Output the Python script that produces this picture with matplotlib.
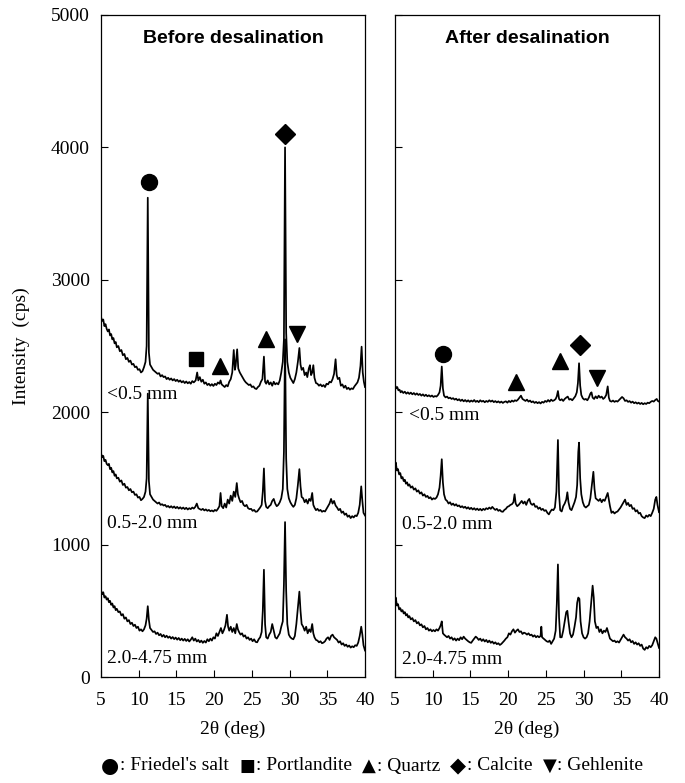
import matplotlib
matplotlib.use("Agg")
import matplotlib.pyplot as plt

# XRD patterns (2theta in deg, intensity in cps)
before_05 = [
    (5.0, 2720), (5.15, 2690), (5.3, 2700), (5.45, 2650), (5.6, 2665), (5.75, 2630), (5.9, 2610), (6.05, 2625),
    (6.2, 2580), (6.35, 2590), (6.5, 2550), (6.65, 2560), (6.8, 2520), (6.95, 2530), (7.1, 2490), (7.3, 2500),
    (7.5, 2460), (7.7, 2470), (7.9, 2430), (8.1, 2440), (8.3, 2400), (8.5, 2410), (8.7, 2380), (8.9, 2390),
    (9.1, 2360), (9.3, 2365), (9.5, 2340), (9.7, 2345), (9.9, 2320), (10.1, 2325), (10.3, 2300), (10.5, 2310),
    (10.7, 2340), (10.9, 2380), (11.05, 2500), (11.2, 3620), (11.35, 2450), (11.5, 2360), (11.7, 2340),
    (11.9, 2320), (12.1, 2310), (12.3, 2300), (12.5, 2290), (12.7, 2295), (12.9, 2270), (13.1, 2280),
    (13.3, 2265), (13.5, 2270), (13.7, 2250), (13.9, 2260), (14.1, 2245), (14.3, 2255), (14.5, 2240),
    (14.7, 2250), (14.9, 2235), (15.1, 2245), (15.3, 2230), (15.5, 2240), (15.7, 2225), (15.9, 2235),
    (16.1, 2220), (16.3, 2232), (16.5, 2218), (16.7, 2228), (16.9, 2215), (17.1, 2235), (17.3, 2225),
    (17.55, 2240), (17.75, 2300), (17.9, 2240), (18.1, 2265), (18.3, 2230), (18.5, 2245), (18.7, 2215),
    (18.9, 2225), (19.1, 2205), (19.3, 2215), (19.5, 2200), (19.7, 2212), (19.9, 2198), (20.1, 2215),
    (20.3, 2205), (20.5, 2225), (20.7, 2215), (20.85, 2240), (21.0, 2210), (21.2, 2200), (21.4, 2190),
    (21.6, 2205), (21.8, 2195), (22.0, 2230), (22.2, 2250), (22.4, 2300), (22.6, 2470), (22.75, 2320),
    (22.85, 2350), (23.05, 2475), (23.2, 2330), (23.4, 2300), (23.6, 2280), (23.8, 2260), (24.0, 2240),
    (24.2, 2225), (24.4, 2215), (24.6, 2205), (24.8, 2210), (25.0, 2190), (25.2, 2195), (25.4, 2180),
    (25.6, 2175), (25.8, 2190), (26.0, 2200), (26.2, 2230), (26.4, 2250), (26.6, 2420), (26.75, 2230),
    (26.9, 2215), (27.1, 2240), (27.3, 2210), (27.5, 2225), (27.7, 2200), (27.9, 2230), (28.1, 2210),
    (28.3, 2220), (28.5, 2210), (28.7, 2240), (28.9, 2300), (29.1, 2380), (29.25, 2550), (29.4, 4000),
    (29.55, 2600), (29.7, 2380), (29.9, 2300), (30.1, 2260), (30.3, 2240), (30.5, 2220), (30.7, 2250),
    (30.9, 2300), (31.1, 2380), (31.3, 2485), (31.45, 2360), (31.6, 2320), (31.8, 2335), (32.0, 2280),
    (32.2, 2300), (32.35, 2265), (32.55, 2330), (32.7, 2355), (32.85, 2280), (33.0, 2300), (33.15, 2355),
    (33.3, 2260), (33.5, 2220), (33.7, 2215), (33.9, 2200), (34.1, 2210), (34.3, 2195), (34.5, 2205),
    (34.7, 2190), (34.9, 2215), (35.1, 2210), (35.3, 2230), (35.5, 2225), (35.7, 2250), (35.9, 2290),
    (36.1, 2400), (36.25, 2280), (36.4, 2250), (36.6, 2260), (36.8, 2200), (37.0, 2210), (37.2, 2185),
    (37.4, 2200), (37.6, 2175), (37.8, 2185), (38.0, 2170), (38.2, 2180), (38.4, 2175), (38.6, 2195),
    (38.8, 2210), (39.0, 2225), (39.2, 2260), (39.4, 2350), (39.55, 2495), (39.7, 2300), (39.85, 2230),
    (40.0, 2190),
]

before_05_20 = [
    (5.0, 1690), (5.15, 1660), (5.3, 1670), (5.45, 1630), (5.6, 1640), (5.75, 1610), (5.9, 1600), (6.05, 1610),
    (6.2, 1570), (6.35, 1580), (6.5, 1545), (6.65, 1555), (6.8, 1520), (6.95, 1530), (7.1, 1500), (7.3, 1505),
    (7.5, 1475), (7.7, 1485), (7.9, 1450), (8.1, 1460), (8.3, 1430), (8.5, 1435), (8.7, 1410), (8.9, 1420),
    (9.1, 1395), (9.3, 1400), (9.5, 1375), (9.7, 1380), (9.9, 1355), (10.1, 1360), (10.3, 1335), (10.5, 1345),
    (10.7, 1360), (10.9, 1400), (11.05, 1500), (11.2, 2140), (11.35, 1480), (11.5, 1380), (11.7, 1360),
    (11.9, 1340), (12.1, 1330), (12.3, 1320), (12.5, 1310), (12.7, 1318), (12.9, 1300), (13.1, 1305),
    (13.3, 1295), (13.5, 1300), (13.7, 1285), (13.9, 1292), (14.1, 1280), (14.3, 1290), (14.5, 1278),
    (14.7, 1288), (14.9, 1275), (15.1, 1285), (15.3, 1272), (15.5, 1282), (15.7, 1270), (15.9, 1280),
    (16.1, 1268), (16.3, 1278), (16.5, 1265), (16.7, 1275), (16.9, 1268), (17.1, 1280), (17.3, 1272),
    (17.5, 1285), (17.7, 1310), (17.9, 1275), (18.1, 1268), (18.3, 1262), (18.5, 1270), (18.7, 1258),
    (18.9, 1266), (19.1, 1255), (19.3, 1262), (19.5, 1252), (19.7, 1258), (19.9, 1250), (20.1, 1262),
    (20.3, 1255), (20.5, 1270), (20.7, 1290), (20.85, 1390), (21.0, 1290), (21.2, 1275), (21.4, 1310),
    (21.6, 1280), (21.8, 1340), (22.0, 1310), (22.2, 1370), (22.4, 1330), (22.6, 1400), (22.8, 1360),
    (23.0, 1465), (23.15, 1380), (23.3, 1350), (23.5, 1320), (23.7, 1330), (23.9, 1300), (24.1, 1290),
    (24.3, 1300), (24.5, 1275), (24.7, 1268), (24.9, 1270), (25.1, 1255), (25.3, 1262), (25.5, 1248),
    (25.7, 1250), (25.9, 1265), (26.1, 1280), (26.3, 1300), (26.45, 1400), (26.6, 1575), (26.75, 1330),
    (26.9, 1285), (27.1, 1275), (27.3, 1290), (27.5, 1300), (27.7, 1330), (27.9, 1345), (28.1, 1310),
    (28.3, 1290), (28.5, 1300), (28.7, 1320), (28.9, 1350), (29.1, 1420), (29.25, 1700), (29.4, 2550),
    (29.55, 1650), (29.7, 1420), (29.9, 1350), (30.1, 1320), (30.3, 1300), (30.5, 1285), (30.7, 1300),
    (30.9, 1350), (31.1, 1450), (31.3, 1570), (31.45, 1440), (31.6, 1360), (31.8, 1350), (32.0, 1320),
    (32.2, 1340), (32.4, 1310), (32.6, 1345), (32.8, 1330), (33.0, 1390), (33.15, 1300), (33.3, 1280),
    (33.5, 1260), (33.7, 1270), (33.9, 1255), (34.1, 1262), (34.3, 1248), (34.5, 1255), (34.7, 1250),
    (34.9, 1270), (35.1, 1290), (35.3, 1310), (35.5, 1345), (35.7, 1310), (35.9, 1330), (36.1, 1295),
    (36.3, 1280), (36.5, 1260), (36.7, 1270), (36.9, 1240), (37.1, 1250), (37.3, 1225), (37.5, 1235),
    (37.7, 1210), (37.9, 1220), (38.1, 1200), (38.3, 1215), (38.5, 1205), (38.7, 1220), (38.9, 1215),
    (39.1, 1240), (39.3, 1300), (39.5, 1440), (39.65, 1330), (39.8, 1240), (40.0, 1220),
]

before_20_475 = [
    (5.0, 655), (5.15, 625), (5.3, 640), (5.45, 600), (5.6, 610), (5.75, 585), (5.9, 595), (6.05, 565),
    (6.2, 575), (6.35, 545), (6.5, 555), (6.65, 525), (6.8, 535), (6.95, 505), (7.1, 515), (7.3, 490),
    (7.5, 495), (7.7, 465), (7.9, 475), (8.1, 440), (8.3, 450), (8.5, 420), (8.7, 430), (8.9, 400),
    (9.1, 410), (9.3, 385), (9.5, 395), (9.7, 370), (9.9, 380), (10.1, 350), (10.3, 360), (10.5, 345),
    (10.7, 360), (10.9, 390), (11.05, 440), (11.2, 535), (11.35, 430), (11.5, 370), (11.7, 355), (11.9, 340),
    (12.1, 345), (12.3, 325), (12.5, 335), (12.7, 315), (12.9, 325), (13.1, 305), (13.3, 318), (13.5, 300),
    (13.7, 312), (13.9, 296), (14.1, 306), (14.3, 290), (14.5, 302), (14.7, 286), (14.9, 298), (15.1, 282),
    (15.3, 295), (15.5, 278), (15.7, 290), (15.9, 275), (16.1, 288), (16.3, 272), (16.5, 285), (16.7, 268),
    (16.9, 282), (17.1, 300), (17.3, 275), (17.5, 290), (17.7, 268), (17.9, 280), (18.1, 262), (18.3, 275),
    (18.5, 258), (18.7, 272), (18.9, 260), (19.1, 285), (19.3, 270), (19.5, 290), (19.7, 275), (19.9, 300),
    (20.1, 290), (20.3, 330), (20.5, 310), (20.7, 340), (20.9, 370), (21.1, 330), (21.3, 355), (21.5, 390),
    (21.7, 470), (21.85, 380), (22.0, 350), (22.2, 380), (22.4, 340), (22.6, 370), (22.8, 330), (23.0, 400),
    (23.15, 360), (23.3, 340), (23.5, 320), (23.7, 330), (23.9, 305), (24.1, 315), (24.3, 290), (24.5, 300),
    (24.7, 280), (24.9, 290), (25.1, 270), (25.3, 285), (25.5, 265), (25.7, 262), (25.9, 285), (26.1, 300),
    (26.3, 340), (26.45, 500), (26.6, 810), (26.75, 400), (26.9, 300), (27.1, 290), (27.3, 320), (27.5, 340),
    (27.7, 400), (27.9, 350), (28.1, 300), (28.3, 290), (28.5, 310), (28.7, 330), (28.9, 380), (29.1, 420),
    (29.25, 700), (29.4, 1170), (29.55, 650), (29.7, 400), (29.9, 320), (30.1, 300), (30.3, 290), (30.5, 285),
    (30.7, 310), (30.9, 400), (31.1, 520), (31.3, 645), (31.45, 500), (31.6, 400), (31.8, 380), (32.0, 350),
    (32.2, 380), (32.4, 330), (32.6, 360), (32.8, 340), (33.0, 400), (33.15, 330), (33.3, 300), (33.5, 280),
    (33.7, 275), (33.9, 262), (34.1, 270), (34.3, 255), (34.5, 260), (34.7, 270), (34.9, 290), (35.1, 300),
    (35.3, 280), (35.5, 310), (35.7, 320), (35.9, 300), (36.1, 290), (36.3, 280), (36.5, 260), (36.7, 270),
    (36.9, 245), (37.1, 255), (37.3, 235), (37.5, 245), (37.7, 228), (37.9, 238), (38.1, 222), (38.3, 232),
    (38.5, 225), (38.7, 240), (38.9, 235), (39.1, 260), (39.3, 310), (39.5, 380), (39.65, 320), (39.8, 240),
    (40.0, 200),
]

after_05 = [
    (5.0, 2205), (5.15, 2180), (5.3, 2190), (5.45, 2165), (5.6, 2170), (5.75, 2150), (5.9, 2160), (6.1, 2145),
    (6.3, 2155), (6.5, 2140), (6.7, 2150), (6.9, 2138), (7.1, 2148), (7.3, 2135), (7.5, 2145), (7.7, 2132),
    (7.9, 2142), (8.1, 2130), (8.3, 2138), (8.5, 2125), (8.7, 2135), (8.9, 2122), (9.1, 2132), (9.3, 2120),
    (9.5, 2128), (9.7, 2118), (9.9, 2126), (10.1, 2115), (10.3, 2122), (10.5, 2118), (10.7, 2130), (10.9, 2150),
    (11.05, 2200), (11.2, 2345), (11.35, 2180), (11.5, 2125), (11.7, 2112), (11.9, 2118), (12.1, 2105),
    (12.3, 2110), (12.5, 2100), (12.7, 2106), (12.9, 2095), (13.1, 2102), (13.3, 2090), (13.5, 2098),
    (13.7, 2085), (13.9, 2095), (14.1, 2082), (14.3, 2092), (14.5, 2080), (14.7, 2090), (14.9, 2078),
    (15.1, 2088), (15.3, 2080), (15.5, 2092), (15.7, 2078), (15.9, 2086), (16.1, 2076), (16.3, 2090),
    (16.5, 2080), (16.7, 2086), (16.9, 2075), (17.1, 2085), (17.3, 2078), (17.5, 2090), (17.7, 2080),
    (17.9, 2088), (18.1, 2076), (18.3, 2084), (18.5, 2074), (18.7, 2082), (18.9, 2072), (19.1, 2080),
    (19.3, 2070), (19.5, 2078), (19.7, 2082), (19.9, 2072), (20.1, 2085), (20.3, 2076), (20.5, 2088),
    (20.7, 2080), (20.9, 2090), (21.1, 2085), (21.3, 2095), (21.5, 2110), (21.7, 2125), (21.9, 2100),
    (22.1, 2092), (22.3, 2085), (22.5, 2095), (22.7, 2080), (22.9, 2088), (23.1, 2075), (23.3, 2082),
    (23.5, 2070), (23.7, 2078), (23.9, 2068), (24.1, 2076), (24.3, 2066), (24.5, 2078), (24.7, 2072),
    (24.9, 2085), (25.1, 2078), (25.3, 2092), (25.5, 2080), (25.7, 2095), (25.9, 2085), (26.1, 2090),
    (26.3, 2100), (26.45, 2120), (26.6, 2160), (26.75, 2100), (26.9, 2090), (27.1, 2098), (27.3, 2085),
    (27.5, 2100), (27.7, 2110), (27.9, 2118), (28.1, 2095), (28.3, 2100), (28.5, 2090), (28.7, 2105),
    (28.9, 2120), (29.1, 2150), (29.25, 2220), (29.4, 2370), (29.55, 2200), (29.7, 2130), (29.9, 2105),
    (30.1, 2095), (30.3, 2100), (30.5, 2090), (30.7, 2110), (30.9, 2140), (31.05, 2150), (31.2, 2110),
    (31.4, 2100), (31.6, 2120), (31.8, 2105), (32.0, 2125), (32.2, 2110), (32.4, 2118), (32.6, 2100),
    (32.8, 2110), (33.0, 2130), (33.2, 2195), (33.35, 2110), (33.5, 2085), (33.7, 2080), (33.9, 2088),
    (34.1, 2078), (34.3, 2085), (34.5, 2080), (34.7, 2092), (34.9, 2105), (35.1, 2115), (35.3, 2105),
    (35.5, 2085), (35.7, 2090), (35.9, 2078), (36.1, 2084), (36.3, 2072), (36.5, 2080), (36.7, 2068),
    (36.9, 2075), (37.1, 2065), (37.3, 2072), (37.5, 2062), (37.7, 2070), (37.9, 2060), (38.1, 2068),
    (38.3, 2062), (38.5, 2072), (38.7, 2068), (38.9, 2078), (39.1, 2085), (39.3, 2080), (39.5, 2092),
    (39.7, 2100), (39.85, 2085), (40.0, 2080),
]

after_05_20 = [
    (5.0, 1600), (5.1, 1620), (5.25, 1560), (5.4, 1570), (5.55, 1530), (5.7, 1540), (5.85, 1500), (6.0, 1510),
    (6.15, 1480), (6.3, 1490), (6.45, 1460), (6.6, 1470), (6.75, 1445), (6.9, 1455), (7.1, 1430), (7.3, 1440),
    (7.5, 1415), (7.7, 1425), (7.9, 1400), (8.1, 1410), (8.3, 1385), (8.5, 1395), (8.7, 1370), (8.9, 1380),
    (9.1, 1360), (9.3, 1368), (9.5, 1350), (9.7, 1358), (9.9, 1340), (10.1, 1350), (10.3, 1345), (10.5, 1355),
    (10.7, 1380), (10.9, 1430), (11.05, 1520), (11.2, 1645), (11.35, 1470), (11.5, 1380), (11.7, 1340),
    (11.9, 1330), (12.1, 1310), (12.3, 1320), (12.5, 1300), (12.7, 1310), (12.9, 1295), (13.1, 1305),
    (13.3, 1290), (13.5, 1296), (13.7, 1282), (13.9, 1290), (14.1, 1278), (14.3, 1286), (14.5, 1272),
    (14.7, 1282), (14.9, 1268), (15.1, 1278), (15.3, 1265), (15.5, 1275), (15.7, 1262), (15.9, 1272),
    (16.1, 1260), (16.3, 1270), (16.5, 1258), (16.7, 1270), (16.9, 1262), (17.1, 1275), (17.3, 1268),
    (17.5, 1280), (17.7, 1270), (17.9, 1285), (18.1, 1272), (18.3, 1262), (18.5, 1270), (18.7, 1255),
    (18.9, 1262), (19.1, 1250), (19.3, 1248), (19.5, 1262), (19.7, 1270), (19.9, 1285), (20.1, 1290),
    (20.3, 1300), (20.5, 1305), (20.7, 1320), (20.85, 1380), (21.0, 1310), (21.2, 1290), (21.4, 1300),
    (21.6, 1315), (21.8, 1330), (22.0, 1310), (22.2, 1325), (22.4, 1300), (22.6, 1330), (22.8, 1345),
    (23.0, 1310), (23.2, 1300), (23.4, 1310), (23.6, 1285), (23.8, 1290), (24.0, 1270), (24.2, 1280),
    (24.4, 1262), (24.6, 1270), (24.8, 1255), (25.0, 1260), (25.2, 1240), (25.4, 1228), (25.6, 1250),
    (25.8, 1265), (26.0, 1260), (26.2, 1280), (26.4, 1400), (26.6, 1790), (26.75, 1380), (26.9, 1260),
    (27.1, 1250), (27.3, 1290), (27.5, 1310), (27.7, 1340), (27.85, 1395), (28.0, 1320), (28.2, 1270),
    (28.4, 1260), (28.6, 1290), (28.8, 1320), (29.0, 1360), (29.15, 1450), (29.3, 1700), (29.4, 1770),
    (29.55, 1500), (29.7, 1380), (29.9, 1320), (30.1, 1290), (30.3, 1280), (30.5, 1290), (30.7, 1300),
    (30.9, 1350), (31.1, 1450), (31.3, 1550), (31.45, 1420), (31.6, 1350), (31.8, 1340), (32.0, 1330),
    (32.2, 1345), (32.4, 1320), (32.6, 1340), (32.8, 1330), (33.0, 1360), (33.2, 1390), (33.35, 1340),
    (33.5, 1290), (33.7, 1240), (33.9, 1250), (34.1, 1235), (34.3, 1245), (34.5, 1250), (34.7, 1265),
    (34.9, 1280), (35.1, 1300), (35.3, 1320), (35.5, 1340), (35.7, 1300), (35.9, 1315), (36.1, 1290),
    (36.3, 1300), (36.5, 1270), (36.7, 1275), (36.9, 1250), (37.1, 1260), (37.3, 1235), (37.5, 1240),
    (37.7, 1215), (37.9, 1205), (38.1, 1200), (38.3, 1220), (38.5, 1210), (38.7, 1225), (38.9, 1215),
    (39.1, 1240), (39.3, 1270), (39.5, 1340), (39.65, 1360), (39.8, 1300), (40.0, 1245),
]

after_20_475 = [
    (5.0, 580), (5.1, 600), (5.25, 540), (5.4, 550), (5.55, 510), (5.7, 520), (5.85, 495), (6.0, 505),
    (6.15, 480), (6.3, 490), (6.45, 465), (6.6, 475), (6.75, 450), (6.9, 460), (7.1, 435), (7.3, 445),
    (7.5, 420), (7.7, 430), (7.9, 405), (8.1, 415), (8.3, 390), (8.5, 398), (8.7, 375), (8.9, 385),
    (9.1, 360), (9.3, 370), (9.5, 350), (9.7, 360), (9.9, 345), (10.1, 355), (10.3, 345), (10.5, 360),
    (10.7, 350), (10.9, 370), (11.05, 390), (11.2, 420), (11.35, 330), (11.5, 320), (11.7, 310), (11.9, 300),
    (12.1, 310), (12.3, 290), (12.5, 300), (12.7, 280), (12.9, 292), (13.1, 275), (13.3, 290), (13.5, 278),
    (13.7, 300), (13.9, 285), (14.1, 305), (14.3, 290), (14.5, 280), (14.7, 270), (14.9, 262), (15.1, 258),
    (15.3, 275), (15.5, 290), (15.7, 305), (15.9, 295), (16.1, 280), (16.3, 290), (16.5, 272), (16.7, 285),
    (16.9, 268), (17.1, 280), (17.3, 262), (17.5, 275), (17.7, 258), (17.9, 268), (18.1, 252), (18.3, 262),
    (18.5, 248), (18.7, 255), (18.9, 242), (19.1, 250), (19.3, 262), (19.5, 275), (19.7, 290), (19.9, 300),
    (20.1, 330), (20.3, 320), (20.5, 345), (20.7, 360), (20.9, 335), (21.1, 350), (21.3, 360), (21.5, 340),
    (21.7, 345), (21.9, 325), (22.1, 335), (22.3, 330), (22.5, 320), (22.7, 330), (22.9, 315), (23.1, 320),
    (23.3, 305), (23.5, 315), (23.7, 300), (23.9, 310), (24.1, 300), (24.3, 310), (24.4, 380), (24.5, 300),
    (24.7, 290), (24.9, 280), (25.1, 270), (25.3, 265), (25.5, 275), (25.7, 250), (25.9, 270), (26.1, 290),
    (26.3, 350), (26.45, 550), (26.6, 850), (26.75, 450), (26.9, 300), (27.1, 300), (27.3, 350), (27.5, 420),
    (27.7, 490), (27.85, 500), (28.0, 420), (28.2, 330), (28.4, 300), (28.6, 320), (28.8, 380), (29.0, 450),
    (29.15, 560), (29.3, 600), (29.45, 590), (29.6, 420), (29.8, 330), (30.0, 300), (30.2, 290), (30.4, 300),
    (30.6, 330), (30.8, 420), (31.0, 560), (31.2, 690), (31.35, 600), (31.5, 420), (31.7, 370), (31.9, 380),
    (32.1, 340), (32.3, 360), (32.5, 330), (32.7, 350), (32.9, 340), (33.1, 370), (33.3, 330), (33.5, 290),
    (33.7, 280), (33.9, 270), (34.1, 275), (34.3, 262), (34.5, 270), (34.7, 260), (34.9, 280), (35.1, 300),
    (35.3, 320), (35.5, 300), (35.7, 290), (35.9, 275), (36.1, 285), (36.3, 262), (36.5, 272), (36.7, 250),
    (36.9, 262), (37.1, 245), (37.3, 255), (37.5, 235), (37.7, 245), (37.9, 215), (38.1, 205), (38.3, 225),
    (38.5, 215), (38.7, 235), (38.9, 225), (39.1, 240), (39.3, 270), (39.5, 300), (39.65, 290), (39.8, 260),
    (40.0, 220),
]

# peak symbols: (marker, 2theta, cps)
marks_before = [("o", 11.3, 3740), ("D", 29.4, 4100), ("s", 17.6, 2405), ("^", 20.8, 2350),
                ("^", 26.9, 2550), ("v", 31.0, 2590)]
marks_after = [("o", 11.3, 2440), ("^", 21.1, 2225), ("^", 26.9, 2385), ("D", 29.5, 2508),
               ("v", 31.8, 2262)]

# size-fraction labels: (text, 2theta, cps)
labels_before = [("<0.5 mm", 5.75, 2135), ("0.5-2.0 mm", 5.75, 1160), ("2.0-4.75 mm", 5.75, 140)]
labels_after = [("<0.5 mm", 6.9, 1975), ("0.5-2.0 mm", 5.9, 1150), ("2.0-4.75 mm", 5.9, 130)]

phase_symbols = ["●", "■", "▲", "◆", "▼"]
phase_names = ["Friedel's salt", "Portlandite", "Quartz", "Calcite", "Gehlenite"]
symbol_sizes = [15, 12, 13, 15, 13]

serif = ["Liberation Serif", "DejaVu Serif"]
plt.rcParams["font.family"] = serif
plt.rcParams["font.size"] = 14

fig = plt.figure(figsize=(6.85, 7.83), dpi=100)
ax1 = fig.add_axes([101 / 685, 106 / 783, 264 / 685, 662 / 783])
ax2 = fig.add_axes([395 / 685, 106 / 783, 264 / 685, 662 / 783])

msizes = {"o": 11.5, "D": 10, "s": 10.5, "^": 11, "v": 11}

for ax, traces, marks, labels, title in [
    (ax1, [before_05, before_05_20, before_20_475], marks_before, labels_before, "Before desalination"),
    (ax2, [after_05, after_05_20, after_20_475], marks_after, labels_after, "After desalination"),
]:
    for tr in traces:
        xs = [p[0] for p in tr]
        ys = [p[1] for p in tr]
        ax.plot(xs, ys, color="k", lw=1.25)
    for m, x, y in marks:
        ax.plot(x, y, marker=m, color="k", ms=msizes[m], ls="none")
    for txt, x, y in labels:
        ax.text(x, y, txt, fontsize=14, ha="left", va="center")
    ax.set_xlim(5, 40)
    ax.set_ylim(0, 5000)
    ax.set_xticks(range(5, 41, 5))
    ax.set_yticks(range(0, 5001, 1000))
    ax.tick_params(direction="in", length=5, width=0.8, top=False, right=False,
                   labelsize=14, pad=8)
    ax.tick_params(axis="x", pad=11)
    for s in ax.spines.values():
        s.set_linewidth(0.9)
    ax.set_xlabel("2θ (deg)", fontsize=14, labelpad=8)
    ax.text(0.5, 0.965, title, transform=ax.transAxes, ha="center", va="center",
            fontsize=14, fontweight="bold", family=["Liberation Sans", "DejaVu Sans"])

ax2.set_yticklabels([])
ax1.set_ylabel("Intensity  (cps)", fontsize=14)
ax1.yaxis.set_label_coords(-0.27, 0.5)

# phase key along the bottom, laid out left to right
renderer = fig.canvas.get_renderer()
ly = 1 - 766 / 783
xpix = 101.0
for sym, name, sz in zip(phase_symbols, phase_names, symbol_sizes):
    t = fig.text(xpix / 685, ly, sym, ha="left", va="center", fontsize=sz, family=["DejaVu Sans"])
    xpix = t.get_window_extent(renderer).x1 + 1
    t = fig.text(xpix / 685, ly, ": " + name, ha="left", va="center", fontsize=14)
    xpix = t.get_window_extent(renderer).x1 + 10

fig.savefig("out.png", dpi=100)
